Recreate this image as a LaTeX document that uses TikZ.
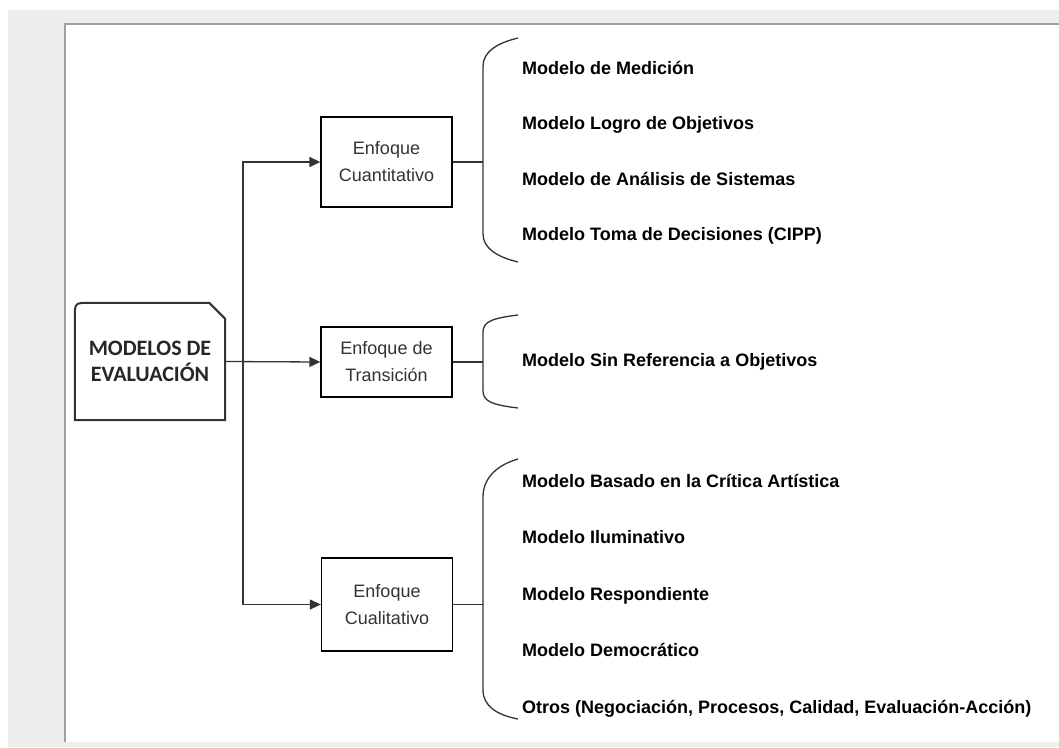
\documentclass[tikz,border=0pt]{standalone}
\usepackage{fontspec}
\setmainfont{Liberation Sans}
\newfontfamily\carlito{Carlito}
\usetikzlibrary{arrows.meta, positioning}
\definecolor{panelgray}{HTML}{EEEDEE}
\definecolor{framegray}{HTML}{A0A0A0}
\definecolor{inkgray}{HTML}{333333}

\begin{document}
\begin{tikzpicture}[
		x=1pt, y=-1pt,
		enfoque/.style={draw, line width=1.3pt, minimum width=131pt, align=center, text=inkgray, font=\fontsize{18}{27}\selectfont},
		modelo/.style={inner sep=0pt, text height=13pt, text depth=4pt, font=\fontsize{18}{20}\selectfont\bfseries},
		arrow/.style={-{Triangle[length=11pt, width=10pt]}, line width=1.3pt, draw=inkgray},
		line/.style={line width=1.3pt, draw=inkgray}
	]

		% Frame
		\useasboundingbox (0,0) rectangle (1059,747);
		\fill[white] (0,0) rectangle (1059,747);
		\fill[panelgray] (8,10) rectangle (1059,747);
		\fill[white] (65,24) rectangle (1059,742);
		\draw[framegray, line width=2pt] (65,742) -- (65,24) -- (1059,24);

		% Nodes
		\node[minimum width=150pt, minimum height=117pt, align=center, text=black!85, font=\carlito\bfseries\fontsize{22}{26}\selectfont] (modelos) at (150,361.5) {MODELOS DE\\EVALUACIÓN};
		\node[enfoque, minimum height=90pt] (cuan) at (386.5,162) {Enfoque\\Cuantitativo};
		\node[enfoque, minimum height=70pt] (trans) at (386.5,362) {Enfoque de\\Transición};
		\node[enfoque, minimum height=93pt] (cual) at (387,604.5) {Enfoque\\Cualitativo};

		\node[modelo, anchor=west] (m11) at (522,70) {Modelo de Medición};
		\node[modelo, below=38pt of m11.south west, anchor=north west] (m12) {Modelo Logro de Objetivos};
		\node[modelo, below=38pt of m12.south west, anchor=north west] (m13) {Modelo de Análisis de Sistemas};
		\node[modelo, below=38pt of m13.south west, anchor=north west] (m14) {Modelo Toma de Decisiones (CIPP)};

		\node[modelo, anchor=west] (m21) at (522,362) {Modelo Sin Referencia a Objetivos};

		\node[modelo, anchor=west] (m31) at (522,483) {Modelo Basado en la Crítica Artística};
		\node[modelo, below=39pt of m31.south west, anchor=north west] (m32) {Modelo Iluminativo};
		\node[modelo, below=39pt of m32.south west, anchor=north west] (m33) {Modelo Respondiente};
		\node[modelo, below=39pt of m33.south west, anchor=north west] (m34) {Modelo Democrático};
		\node[modelo, below=39pt of m34.south west, anchor=north west] (m35) {Otros (Negociación, Procesos, Calidad, Evaluación-Acción)};

		% Main box with rounded and cut corner
		\draw[line width=2pt, draw=black!80] (modelos.south west) -- ([yshift=-15pt]modelos.north west)
			.. controls (modelos.north west) .. ([xshift=15pt]modelos.north west)
			-- ([xshift=-16pt]modelos.north east) -- ([yshift=-16pt]modelos.north east)
			-- (modelos.south east) -- cycle;

		% Braces
		\coordinate (b1t) at (518,38);  \coordinate (b1b) at (518,262); \coordinate (b1) at (483,162);
		\coordinate (b2t) at (518,315); \coordinate (b2b) at (518,408); \coordinate (b2) at (483,362);
		\coordinate (b3t) at (518,459); \coordinate (b3b) at (518,719); \coordinate (b3) at (483,604.5);
		\draw[line] (b1t) .. controls (497,43) and (483,52) .. (483,66) -- (483,234) .. controls (483,248) and (497,257) .. (b1b);
		\draw[line] (b2t) .. controls (494,318) and (483,321) .. (483,332) -- (483,391) .. controls (483,402) and (494,405) .. (b2b);
		\draw[line] (b3t) .. controls (497,465) and (483,478) .. (483,497) -- (483,690) .. controls (483,706) and (497,715) .. (b3b);

		% Arrows
		\coordinate (trunk) at (243,361.5);
		\draw[arrow] (modelos.east) -- (trans.west);
		\draw[arrow] (trunk) |- (cuan.west);
		\draw[arrow] (trunk) |- (cual.west);
		\draw[line] (cuan.east) -- (b1);
		\draw[line] (trans.east) -- (b2);
		\draw[line] (cual.east) -- (b3);

	\end{tikzpicture}
\end{document}
